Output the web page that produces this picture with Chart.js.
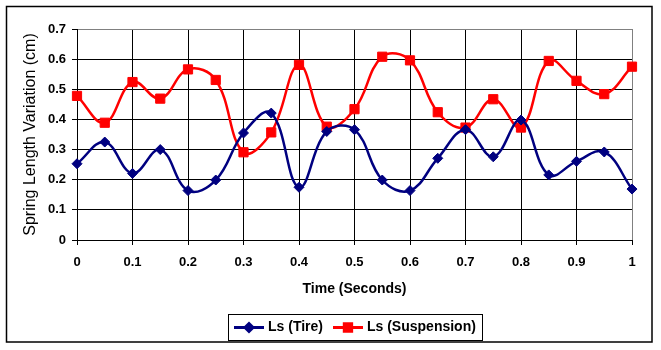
<!DOCTYPE html>
<html>
<head>
<meta charset="utf-8">
<title>Spring Length Variation</title>
<script src="https://cdn.jsdelivr.net/npm/chart.js@4.4.1/dist/chart.umd.min.js"></script>
<style>
  html, body { margin: 0; padding: 0; background: #fff; }
  canvas { display: block; }
</style>
</head>
<body>
<canvas id="springChart" width="661" height="350"></canvas>
<script>
// sample times (s) and spring length variation (cm)
const times = [0, 0.05, 0.1, 0.15, 0.2, 0.25, 0.3, 0.35, 0.4, 0.45, 0.5,
    0.55, 0.6, 0.65, 0.7, 0.75, 0.8, 0.85, 0.9, 0.95, 1];
const tireLs = [0.253, 0.325, 0.221, 0.300, 0.164, 0.199, 0.355, 0.421, 0.175,
    0.360, 0.366, 0.199, 0.164, 0.271, 0.366, 0.276, 0.398, 0.216, 0.261,
    0.292, 0.169];
const suspensionLs = [0.478, 0.389, 0.524, 0.469, 0.566, 0.531, 0.291, 0.357,
    0.581, 0.376, 0.434, 0.608, 0.596, 0.424, 0.373, 0.467, 0.373, 0.594,
    0.528, 0.484, 0.575];
const seriesNames = ['Ls (Tire)', 'Ls (Suspension)'];
const xTickLabels = ['0', '0.1', '0.2', '0.3', '0.4', '0.5', '0.6', '0.7', '0.8', '0.9', '1'];
const yTickLabels = ['0', '0.1', '0.2', '0.3', '0.4', '0.5', '0.6', '0.7'];

const NAVY = '#000080';
const RED = '#FF0000';
const FONT = 'Liberation Sans, Arial, sans-serif';

const toPoints = (ys) => ys.map((y, i) => ({ x: times[i], y: y }));

// frame around the whole chart plus the boxed legend under the axis title
const frameAndLegend = {
    id: 'frameAndLegend',
    afterDraw(chart) {
        const ctx = chart.ctx;
        const area = chart.chartArea;
        ctx.save();
        ctx.strokeStyle = '#000';
        ctx.lineWidth = 1.5;
        ctx.strokeRect(6.5, 6.5, 645.5, 335.5);

        ctx.font = 'bold 14px ' + FONT;
        ctx.textBaseline = 'middle';
        const lineLen = 30, gap = 4, pad = 6, between = 10;
        const widths = seriesNames.map((n) => ctx.measureText(n).width);
        const total = pad * 2 + between +
            widths.reduce((a, w) => a + w + lineLen + gap, 0);
        const boxH = 26;
        const boxTop = 314;
        let x = Math.round((area.left + area.right) / 2 - total / 2);
        ctx.lineWidth = 1;
        ctx.strokeRect(x + 0.5, boxTop + 0.5, Math.round(total), boxH);

        const cy = boxTop + boxH / 2 + 0.5;
        x += pad;
        chart.data.datasets.forEach((ds, i) => {
            ctx.strokeStyle = ds.borderColor;
            ctx.fillStyle = ds.borderColor;
            ctx.lineWidth = 3;
            ctx.beginPath();
            ctx.moveTo(x, cy);
            ctx.lineTo(x + lineLen, cy);
            ctx.stroke();
            Chart.helpers.drawPoint(ctx, {
                pointStyle: ds.pointStyle,
                radius: ds.pointRadius * 0.8,
                borderWidth: 1
            }, x + lineLen / 2, cy);
            x += lineLen + gap;
            ctx.fillStyle = '#000';
            ctx.fillText(seriesNames[i], x, cy);
            x += widths[i] + between;
        });
        ctx.restore();
    }
};

new Chart(document.getElementById('springChart'), {
    type: 'line',
    data: {
        datasets: [
            {
                label: seriesNames[0],
                data: toPoints(tireLs),
                borderColor: NAVY,
                backgroundColor: NAVY,
                borderWidth: 2.5,
                pointStyle: 'rectRot',
                pointRadius: 5,
                pointBorderWidth: 1,
                tension: 0.4,
                clip: false
            },
            {
                label: seriesNames[1],
                data: toPoints(suspensionLs),
                borderColor: RED,
                backgroundColor: RED,
                borderWidth: 2.5,
                pointStyle: 'rect',
                pointRadius: 6.5,
                pointBorderWidth: 1,
                tension: 0.4,
                clip: false
            }
        ]
    },
    options: {
        responsive: false,
        animation: false,
        layout: { padding: { left: 0, right: 29, top: 29, bottom: 0 } },
        plugins: {
            legend: { display: false },
            tooltip: { enabled: false }
        },
        scales: {
            x: {
                type: 'linear',
                min: 0,
                max: 1,
                afterFit(scale) { scale.height = 110; },
                ticks: {
                    stepSize: 0.1,
                    padding: 10,
                    color: '#000',
                    font: { family: FONT, size: 13, weight: 'bold' },
                    callback: (v, i) => xTickLabels[i]
                },
                grid: {
                    color: (c) => (c.tick && c.tick.value === 1 ? '#808080' : '#000'),
                    tickColor: '#000',
                    tickLength: 5,
                    lineWidth: 1
                },
                border: { color: '#000', width: 1 },
                title: {
                    display: true,
                    text: 'Time (Seconds)',
                    color: '#000',
                    font: { family: FONT, size: 14, weight: 'bold' },
                    padding: { top: 0, bottom: 52 }
                }
            },
            y: {
                min: 0,
                max: 0.7,
                afterFit(scale) { scale.width = 77; },
                ticks: {
                    stepSize: 0.1,
                    padding: 6,
                    color: '#000',
                    font: { family: FONT, size: 13, weight: 'bold' },
                    callback: (v, i) => yTickLabels[i]
                },
                grid: {
                    color: (c) => (c.tick && Math.abs(c.tick.value - 0.7) < 1e-6 ? '#808080' : '#000'),
                    tickColor: '#000',
                    tickLength: 5,
                    lineWidth: 1
                },
                border: { color: '#000', width: 1 },
                title: {
                    display: true,
                    text: 'Spring Length Variation (cm)',
                    color: '#000',
                    font: { family: FONT, size: 16 },
                    padding: { top: 21, bottom: 0 }
                }
            }
        }
    },
    plugins: [frameAndLegend]
});
</script>
</body>
</html>
